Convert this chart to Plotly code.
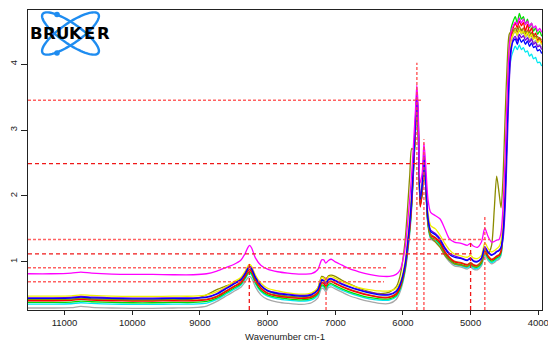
import numpy as np
import plotly.graph_objects as go

# Wavenumber grid (cm-1) shared by all spectra
wavenumber = [11540, 11200, 10900, 10760, 10600, 10300, 10000, 9700, 9400, 9100, 8900, 8750, 8600, 8500,
              8400, 8330, 8290, 8265, 8235, 8180, 8100, 8000, 7850, 7700, 7500, 7350, 7260, 7200, 7170, 7140,
              7100, 7060, 7000, 6900, 6800, 6650, 6500, 6350, 6200, 6100,
              6040, 5970, 5900, 5870, 5840, 5815, 5795, 5775, 5745, 5715, 5690, 5665, 5630, 5590, 5520, 5450,
              5380, 5320, 5240, 5140,
              5050, 5000, 4960, 4900, 4840, 4790, 4740, 4690, 4650, 4615, 4580, 4550, 4520, 4490, 4460, 4430,
              4400, 4370, 4340, 4310, 4280, 4250, 4220, 4190, 4160, 4130, 4100, 4070, 4040, 4010, 3980, 3950]

magenta = [0.82, 0.82, 0.83, 0.845, 0.83, 0.815, 0.81, 0.81, 0.805, 0.805, 0.82, 0.86, 0.92, 0.96,
           1.02, 1.13, 1.22, 1.25, 1.21, 1.06, 0.95, 0.89, 0.85, 0.83, 0.815, 0.82, 0.88, 1.03, 1.03, 0.98,
           1.02, 1.04, 1.0, 0.95, 0.9, 0.85, 0.81, 0.785, 0.78, 0.81,
           0.88, 1.2, 1.95, 2.35, 2.85, 3.3, 3.68, 3.35, 2.2, 2.35, 2.8, 2.5, 1.95, 1.75, 1.7, 1.65,
           1.5, 1.36, 1.3, 1.28,
           1.25, 1.28, 1.24, 1.22, 1.3, 1.51, 1.38, 1.3, 1.31, 1.33, 1.34, 1.45, 1.85, 2.6, 3.5, 4.25,
           4.5, 4.58, 4.64, 4.6, 4.7, 4.62, 4.68, 4.6, 4.65, 4.57, 4.62, 4.55, 4.58, 4.5, 4.54, 4.48]

yellow = [0.48, 0.48, 0.485, 0.5, 0.49, 0.48, 0.475, 0.475, 0.48, 0.48, 0.5, 0.55, 0.63, 0.7,
          0.76, 0.86, 0.94, 0.96, 0.93, 0.8, 0.68, 0.6, 0.56, 0.53, 0.51, 0.53, 0.6, 0.76, 0.75, 0.71,
          0.77, 0.78, 0.75, 0.7, 0.66, 0.61, 0.58, 0.56, 0.56, 0.6,
          0.7, 1.0, 1.7, 2.1, 2.65, 3.15, 3.5, 3.15, 2.0, 2.2, 2.62, 2.3, 1.75, 1.55, 1.5, 1.4,
          1.28, 1.19, 1.12, 1.09,
          1.07, 1.1, 1.06, 1.05, 1.1, 1.29, 1.2, 1.15, 1.17, 1.2, 1.23, 1.32, 1.7, 2.4, 3.3, 4.1,
          4.38, 4.45, 4.5, 4.44, 4.52, 4.47, 4.5, 4.42, 4.48, 4.4, 4.45, 4.38, 4.4, 4.33, 4.36, 4.3]

olive = [0.43, 0.43, 0.435, 0.45, 0.44, 0.43, 0.425, 0.425, 0.43, 0.435, 0.5, 0.58, 0.64, 0.68,
         0.74, 0.83, 0.9, 0.92, 0.89, 0.76, 0.64, 0.56, 0.51, 0.48, 0.47, 0.5, 0.6, 0.78, 0.77, 0.73,
         0.79, 0.8, 0.78, 0.72, 0.67, 0.6, 0.55, 0.52, 0.54, 0.62,
         0.8, 1.3, 2.3, 2.72, 2.7, 3.05, 3.4, 3.05, 1.95, 2.1, 2.55, 2.2, 1.6, 1.38, 1.3, 1.22,
         1.1, 1.03, 0.97, 0.95,
         0.93, 0.97, 0.93, 0.93, 1.0, 1.2, 1.12, 1.25, 1.8, 2.3, 2.05, 1.82, 2.3, 3.2, 4.0, 4.45,
         4.5, 4.52, 4.48, 4.55, 4.5, 4.53, 4.47, 4.5, 4.45, 4.49, 4.42, 4.46, 4.4, 4.42, 4.36, 4.38]

blue = [0.445, 0.445, 0.45, 0.465, 0.455, 0.445, 0.44, 0.44, 0.445, 0.445, 0.46, 0.51, 0.6, 0.66,
        0.72, 0.82, 0.9, 0.92, 0.89, 0.76, 0.64, 0.56, 0.52, 0.5, 0.48, 0.5, 0.57, 0.72, 0.71, 0.67,
        0.73, 0.74, 0.71, 0.66, 0.62, 0.57, 0.53, 0.5, 0.5, 0.55,
        0.66, 0.95, 1.6, 2.0, 2.6, 3.15, 3.56, 3.2, 1.95, 2.15, 2.6, 2.25, 1.65, 1.46, 1.41, 1.33,
        1.2, 1.12, 1.07, 1.05,
        1.02, 1.05, 1.01, 1.0, 1.05, 1.22, 1.14, 1.1, 1.12, 1.15, 1.17, 1.22, 1.45, 2.0, 3.0, 3.9,
        4.25, 4.35, 4.38, 4.3, 4.4, 4.33, 4.37, 4.3, 4.35, 4.27, 4.32, 4.25, 4.27, 4.2, 4.22, 4.16]

purple = [0.455, 0.455, 0.46, 0.475, 0.465, 0.455, 0.45, 0.45, 0.455, 0.455, 0.47, 0.52, 0.61, 0.67,
          0.73, 0.83, 0.91, 0.93, 0.9, 0.77, 0.65, 0.57, 0.53, 0.51, 0.49, 0.51, 0.58, 0.73, 0.72, 0.68,
          0.74, 0.75, 0.72, 0.67, 0.63, 0.58, 0.54, 0.51, 0.51, 0.56,
          0.66, 0.93, 1.55, 1.95, 2.55, 3.1, 3.55, 3.25, 2.0, 2.2, 2.65, 2.3, 1.68, 1.48, 1.43, 1.35,
          1.22, 1.14, 1.09, 1.06,
          1.03, 1.06, 1.02, 1.01, 1.06, 1.23, 1.15, 1.11, 1.13, 1.16, 1.18, 1.22, 1.35, 1.8, 2.7, 3.7,
          4.2, 4.38, 4.42, 4.35, 4.45, 4.4, 4.43, 4.36, 4.4, 4.33, 4.38, 4.3, 4.33, 4.26, 4.28, 4.22]

red = [0.41, 0.41, 0.415, 0.43, 0.42, 0.41, 0.405, 0.405, 0.41, 0.41, 0.425, 0.47, 0.56, 0.62,
       0.68, 0.78, 0.86, 0.88, 0.85, 0.72, 0.6, 0.52, 0.48, 0.46, 0.445, 0.465, 0.53, 0.68, 0.67, 0.63,
       0.69, 0.7, 0.67, 0.62, 0.58, 0.53, 0.49, 0.46, 0.46, 0.51,
       0.62, 0.9, 1.5, 1.9, 2.5, 3.05, 3.45, 3.1, 1.83, 2.05, 2.55, 2.2, 1.6, 1.4, 1.36, 1.29,
       1.15, 1.07, 1.0, 0.98,
       0.95, 0.98, 0.95, 0.94, 1.0, 1.16, 1.08, 1.03, 1.05, 1.08, 1.1, 1.16, 1.5, 2.2, 3.2, 4.1,
       4.45, 4.55, 4.62, 4.55, 4.65, 4.58, 4.63, 4.5, 4.6, 4.48, 4.55, 4.42, 4.47, 4.36, 4.4, 4.32]

sienna = [0.42, 0.42, 0.425, 0.44, 0.43, 0.42, 0.415, 0.415, 0.42, 0.42, 0.435, 0.48, 0.57, 0.63,
          0.69, 0.79, 0.87, 0.89, 0.86, 0.73, 0.61, 0.53, 0.49, 0.47, 0.455, 0.475, 0.54, 0.69, 0.68, 0.64,
          0.7, 0.71, 0.68, 0.63, 0.59, 0.54, 0.5, 0.47, 0.47, 0.52,
          0.64, 0.92, 1.52, 1.92, 2.5, 3.05, 3.48, 3.12, 1.88, 2.08, 2.57, 2.22, 1.62, 1.42, 1.37, 1.3,
          1.16, 1.08, 1.01, 0.99,
          0.96, 0.99, 0.96, 0.95, 1.01, 1.17, 1.09, 1.04, 1.06, 1.09, 1.11, 1.17, 1.55, 2.3, 3.3, 4.15,
          4.42, 4.5, 4.55, 4.48, 4.58, 4.5, 4.55, 4.45, 4.52, 4.42, 4.48, 4.38, 4.42, 4.33, 4.37, 4.3]

green = [0.385, 0.385, 0.39, 0.405, 0.395, 0.385, 0.38, 0.38, 0.385, 0.385, 0.4, 0.45, 0.54, 0.6,
         0.66, 0.76, 0.83, 0.85, 0.82, 0.69, 0.57, 0.5, 0.46, 0.44, 0.425, 0.445, 0.51, 0.65, 0.64, 0.6,
         0.66, 0.67, 0.64, 0.59, 0.55, 0.5, 0.46, 0.44, 0.44, 0.49,
         0.6, 0.88, 1.48, 1.88, 2.48, 3.0, 3.42, 3.08, 1.86, 2.06, 2.54, 2.18, 1.58, 1.38, 1.34, 1.27,
         1.13, 1.05, 0.98, 0.96,
         0.93, 0.96, 0.93, 0.92, 0.98, 1.14, 1.06, 1.01, 1.03, 1.06, 1.08, 1.14, 1.5, 2.25, 3.25, 4.2,
         4.55, 4.65, 4.72, 4.62, 4.77, 4.68, 4.72, 4.6, 4.68, 4.55, 4.62, 4.5, 4.55, 4.45, 4.5, 4.42]

cyan = [0.36, 0.36, 0.365, 0.38, 0.37, 0.36, 0.355, 0.355, 0.36, 0.36, 0.375, 0.43, 0.52, 0.58,
        0.64, 0.74, 0.81, 0.83, 0.8, 0.67, 0.55, 0.48, 0.44, 0.42, 0.405, 0.425, 0.49, 0.63, 0.62, 0.58,
        0.64, 0.65, 0.62, 0.57, 0.53, 0.48, 0.44, 0.42, 0.42, 0.47,
        0.58, 0.86, 1.45, 1.85, 2.45, 2.98, 3.4, 3.05, 1.85, 2.05, 2.52, 2.16, 1.56, 1.36, 1.32, 1.25,
        1.11, 1.03, 0.96, 0.94,
        0.91, 0.94, 0.91, 0.9, 0.96, 1.12, 1.04, 0.99, 1.01, 1.04, 1.06, 1.12, 1.4, 2.0, 3.0, 3.8,
        4.1, 4.2, 4.27, 4.22, 4.29, 4.22, 4.25, 4.18, 4.2, 4.12, 4.15, 4.08, 4.1, 4.02, 4.03, 3.97]

gray = [0.30, 0.30, 0.305, 0.325, 0.31, 0.30, 0.295, 0.295, 0.30, 0.305, 0.33, 0.4, 0.49, 0.55,
        0.61, 0.7, 0.76, 0.78, 0.75, 0.62, 0.5, 0.43, 0.39, 0.37, 0.355, 0.38, 0.45, 0.6, 0.59, 0.55,
        0.61, 0.62, 0.59, 0.54, 0.49, 0.44, 0.4, 0.37, 0.37, 0.43,
        0.55, 0.84, 1.42, 1.82, 2.42, 2.95, 3.38, 3.02, 1.85, 2.04, 2.5, 2.15, 1.55, 1.35, 1.3, 1.23,
        1.09, 1.01, 0.94, 0.92,
        0.89, 0.92, 0.89, 0.88, 0.94, 1.1, 1.02, 0.97, 0.99, 1.02, 1.04, 1.1, 1.45, 2.15, 3.15, 4.05,
        4.35, 4.45, 4.5, 4.42, 4.52, 4.45, 4.48, 4.4, 4.45, 4.36, 4.4, 4.32, 4.36, 4.28, 4.3, 4.25]

# drawing order: bottom first
spectra = [
    ("gray", "#A8A8A8", gray),
    ("cyan", "#00E8F0", cyan),
    ("green", "#00DD00", green),
    ("sienna", "#C0601A", sienna),
    ("red", "#FF0000", red),
    ("olive", "#8C8C00", olive),
    ("yellow", "#F0F000", yellow),
    ("purple", "#7A00E0", purple),
    ("blue", "#0000FF", blue),
    ("magenta", "#FF00FF", magenta),
]

# Peak marker lines
hline_y = [3.45, 2.49, 1.34, 1.12, 0.91, 0.70]
hline_end = [5725, 5600, 4715, 4985, 6250, 6280]
hline_dark = [False, True, False, True, False, False]
vline_x = [8270, 7136, 5794, 5690, 5000, 4790]
vline_top = [1.00, 0.77, 4.02, 2.86, 1.34, 1.69]
vline_dark = [True, False, False, False, True, False]

X_RANGE = [11540, 3945]
Y_RANGE = [0.27, 4.82]
x_ticks = [11000, 10000, 9000, 8000, 7000, 6000, 5000, 4000]
y_ticks = [1, 2, 3, 4]

fig = go.Figure()
for name, color, vals in spectra:
    fig.add_trace(go.Scatter(x=wavenumber, y=vals, mode="lines", name=name,
                             line=dict(color=color, width=1.3, shape="spline", smoothing=0.7),
                             hoverinfo="skip", showlegend=False))

LIGHT = dict(color="rgba(255,70,70,0.85)", width=1.5, dash="3px,2px")
DARK = dict(color="#F01818", width=1.3, dash="4px,3px")
for y, xe, dark in zip(hline_y, hline_end, hline_dark):
    fig.add_trace(go.Scatter(x=[X_RANGE[0], xe], y=[y, y], mode="lines",
                             line=DARK if dark else LIGHT, hoverinfo="skip", showlegend=False))
for x, yt, dark in zip(vline_x, vline_top, vline_dark):
    fig.add_trace(go.Scatter(x=[x, x], y=[Y_RANGE[0], yt], mode="lines",
                             line=DARK if dark else LIGHT, hoverinfo="skip", showlegend=False))

# --- logo, drawn on a hidden pixel-scaled overlay axis ---
L, R, T, B = 28, 6, 10, 34
W, H = 548, 344
fig.add_trace(go.Scatter(x=[L], y=[T], xaxis="x2", yaxis="y2", mode="markers",
                         marker=dict(size=1, opacity=0), hoverinfo="skip", showlegend=False))
cx, cy, a, b = 70.5, 33.5, 34.0, 10.0
t = np.linspace(0, 2 * np.pi, 90)
for ang in (35, -35):
    th = np.deg2rad(ang)
    ex = cx + a * np.cos(t) * np.cos(th) - b * np.sin(t) * np.sin(th)
    ey = cy + a * np.cos(t) * np.sin(th) + b * np.sin(t) * np.cos(th)
    path = "M " + " L ".join(f"{u:.2f},{v:.2f}" for u, v in zip(ex, ey)) + " Z"
    fig.add_shape(type="path", path=path, xref="x2", yref="y2",
                  line=dict(color="#1E8CF0", width=2.4))
for dx, dy in ((57, 14.5), (57, 53)):
    fig.add_shape(type="circle", xref="x2", yref="y2", x0=dx - 2.8, x1=dx + 2.8,
                  y0=dy - 2.8, y1=dy + 2.8, fillcolor="#1E8CF0", line=dict(width=0))
for i, ch in enumerate("BRUKER"):
    fig.add_annotation(x=36.0 + 13.4 * i, y=33.8, xref="x2", yref="y2", text=f"<b>{ch}</b>",
                       showarrow=False, font=dict(family="DejaVu Sans", size=16.5, color="#000000"))

axis_common = dict(showgrid=False, zeroline=False, showline=True, mirror=True,
                   linecolor="#222222", linewidth=1, ticks="outside", tickcolor="#222222",
                   automargin=False, ticklabeloverflow="allow",
                   tickfont=dict(family="Liberation Sans", size=9.5, color="#222222"))
fig.update_layout(
    width=W, height=H, margin=dict(l=L, r=R, t=T, b=B, autoexpand=False),
    paper_bgcolor="white", plot_bgcolor="white",
    xaxis=dict(range=X_RANGE, tickvals=x_ticks, ticktext=[str(v) for v in x_ticks], ticklen=4,
               title=dict(text="Wavenumber cm-1", standoff=5,
                          font=dict(family="Liberation Sans", size=9.5, color="#222222")),
               **axis_common),
    yaxis=dict(range=Y_RANGE, tickvals=y_ticks, ticktext=[str(v) for v in y_ticks], ticklen=6,
               tickangle=-90, **axis_common),
    xaxis2=dict(range=[L, W - R], overlaying="x", visible=False, anchor="y2"),
    yaxis2=dict(range=[H - B, T], overlaying="y", visible=False, anchor="x2"),
)
fig.write_html("out.html")
